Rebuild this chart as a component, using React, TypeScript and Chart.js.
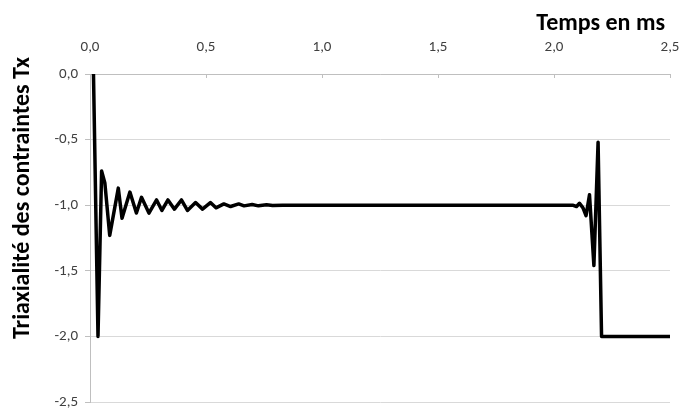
import { useEffect, useRef } from "react";
import { Chart, registerables } from "chart.js";

Chart.register(...registerables);

// Time (ms)
const timeMs = [
  0.015, 0.0345, 0.050, 0.064, 0.085, 0.122, 0.138, 0.172, 0.200, 0.222,
  0.254, 0.287, 0.310, 0.336, 0.364, 0.394, 0.420, 0.455, 0.485, 0.519,
  0.543, 0.577, 0.606, 0.641, 0.664, 0.699, 0.726, 0.761, 0.787, 0.830,
  2.080, 2.097, 2.110, 2.125, 2.138, 2.153, 2.172, 2.190, 2.205, 2.500,
];

// Stress triaxiality Tx
const triaxiality = [
  0.0, -2.0, -0.74, -0.83, -1.23, -0.87, -1.10, -0.90, -1.06, -0.94,
  -1.06, -0.96, -1.04, -0.96, -1.03, -0.96, -1.04, -0.98, -1.03, -0.98,
  -1.02, -0.99, -1.01, -0.99, -1.005, -0.995, -1.005, -0.997, -1.003, -1.0,
  -1.0, -1.01, -0.985, -1.02, -1.08, -0.92, -1.46, -0.52, -2.0, -2.0,
];

const xTickValues = [0, 0.5, 1.0, 1.5, 2.0, 2.5];
const yTickValues = [0, -0.5, -1.0, -1.5, -2.0, -2.5];

const xTitle = "Temps en ms";
const yTitle = "Triaxialité des contraintes Tx";

const FONT = "Carlito, Calibri, Lato, sans-serif";

const fmt = (v: number) => {
  const s = Math.abs(v) < 1e-9 ? "0.0" : v.toFixed(1);
  return s.replace(".", ",");
};

export default function App() {
  const canvasRef = useRef<HTMLCanvasElement | null>(null);

  useEffect(() => {
    const canvas = canvasRef.current;
    if (!canvas) return;

    const decorations = {
      id: "decorations",
      afterDraw(chart: any) {
        const { ctx, chartArea, scales } = chart;
        ctx.save();
        // inward tick marks on the top axis
        ctx.strokeStyle = "#bfbfbf";
        ctx.lineWidth = 1;
        xTickValues.forEach((v) => {
          if (v === 0) return;
          const px = Math.round(scales.x.getPixelForValue(v)) + 0.5;
          ctx.beginPath();
          ctx.moveTo(px, chartArea.top);
          ctx.lineTo(px, chartArea.top + 4);
          ctx.stroke();
        });
        // axis titles
        ctx.fillStyle = "#000000";
        ctx.font = `bold 24px ${FONT}`;
        ctx.textAlign = "right";
        ctx.textBaseline = "alphabetic";
        ctx.fillText(xTitle, 665, 30);
        ctx.translate(23, 198);
        ctx.rotate(-Math.PI / 2);
        ctx.textAlign = "center";
        ctx.textBaseline = "middle";
        ctx.fillText(yTitle, 0, 0);
        ctx.restore();
      },
    };

    const chart = new Chart(canvas, {
      type: "line",
      data: {
        datasets: [
          {
            data: timeMs.map((t, i) => ({ x: t, y: triaxiality[i] })),
            borderColor: "#000000",
            borderWidth: 3.5,
            pointRadius: 0,
            tension: 0,
            fill: false,
            borderJoinStyle: "round",
          },
        ],
      },
      options: {
        responsive: false,
        animation: false,
        layout: { padding: { left: 0, top: 0, right: 11, bottom: 8 } },
        plugins: {
          legend: { display: false },
          tooltip: { enabled: false },
        },
        scales: {
          x: {
            type: "linear",
            position: "top",
            min: 0,
            max: 2.5,
            afterBuildTicks: (s: any) => {
              s.ticks = xTickValues.map((v) => ({ value: v }));
            },
            afterFit: (s: any) => {
              s.height = 74;
              s.paddingLeft = 0;
              s.paddingRight = 0;
            },
            ticks: {
              callback: (v: any) => fmt(Number(v)),
              font: { family: FONT, size: 15 },
              color: "#404040",
              padding: 18,
              maxRotation: 0,
            },
            grid: { drawOnChartArea: false, drawTicks: false },
            border: { color: "#bfbfbf", width: 1 },
          },
          y: {
            type: "linear",
            min: -2.5,
            max: 0,
            afterBuildTicks: (s: any) => {
              s.ticks = yTickValues.map((v) => ({ value: v }));
            },
            afterFit: (s: any) => {
              s.width = 90;
              s.paddingTop = 0;
              s.paddingBottom = 0;
            },
            ticks: {
              callback: (v: any) => fmt(Number(v)),
              font: { family: FONT, size: 15 },
              color: "#404040",
              padding: 7,
            },
            grid: { color: "#d9d9d9", tickLength: 5, drawTicks: true, tickColor: "#bfbfbf" },
            border: { color: "#bfbfbf", width: 1 },
          },
        },
      },
      plugins: [decorations],
    });

    return () => chart.destroy();
  }, []);

  return (
    <div style={{ position: "absolute", left: 0, top: 0, width: 681, height: 410, background: "#ffffff" }}>
      <canvas ref={canvasRef} width={681} height={410} />
    </div>
  );
}
